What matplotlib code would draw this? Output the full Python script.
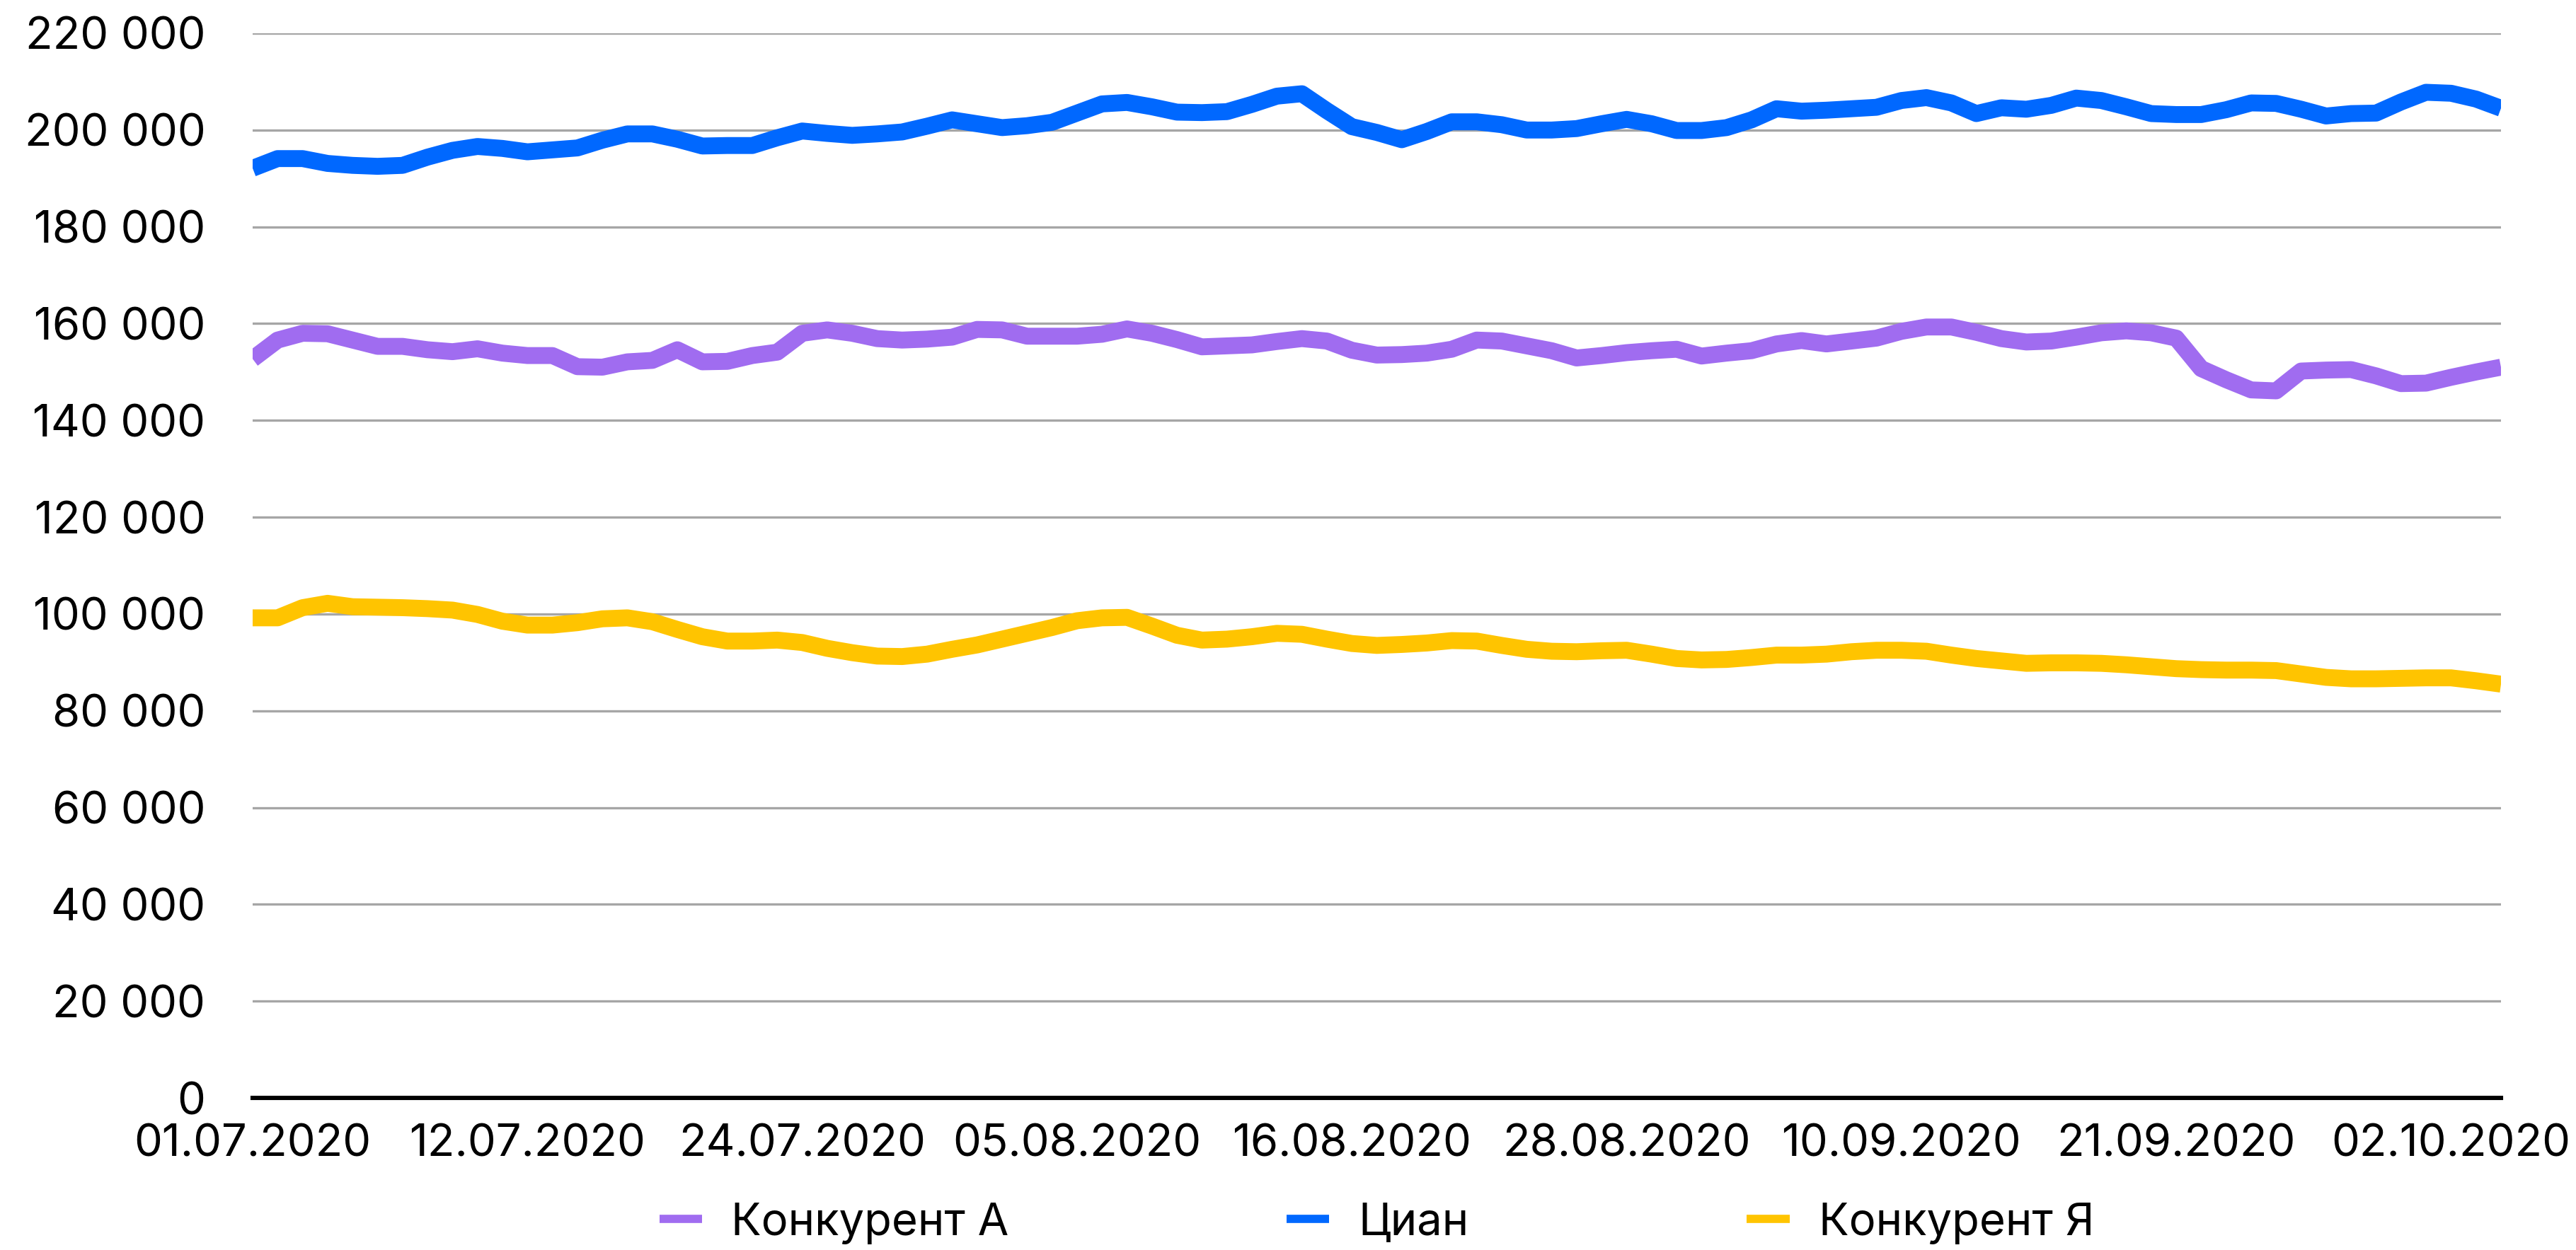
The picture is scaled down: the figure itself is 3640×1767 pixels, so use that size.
import matplotlib
matplotlib.use("Agg")
import matplotlib.pyplot as plt
from matplotlib.ticker import FuncFormatter, MultipleLocator

plt.rcParams['font.family'] = ['Inter', 'DejaVu Sans']

# Daily listing counts, 01.07.2020 - 05.10.2020 (91 observations)
tick_labels = ["01.07.2020", "12.07.2020", "24.07.2020", "05.08.2020", "16.08.2020",
               "28.08.2020", "10.09.2020", "21.09.2020", "02.10.2020"]
tick_step = 11

series_names = ["Конкурент А", "Циан", "Конкурент Я"]
series_colors = ["#A06CF0", "#0068FF", "#FFC400"]

competitor_a = [
    152700, 156600, 158000, 157900, 156600, 155300, 155300, 154600, 154200, 154800,
    153900, 153400, 153400, 151100, 151000, 152100, 152400, 154600, 152100, 152200,
    153400, 154100, 158000, 158700, 158000, 156900, 156600, 156800, 157200, 158800,
    158700, 157400, 157400, 157400, 157800, 158900, 158000, 156700, 155200, 155400,
    155600, 156300, 156900, 156400, 154500, 153500, 153600, 153900, 154700, 156600,
    156400, 155400, 154400, 152900, 153400, 154000, 154400, 154700, 153300, 153900,
    154400, 155800, 156500, 155800, 156400, 157000, 158400, 159300, 159300, 158200,
    156900, 156200, 156400, 157200, 158100, 158500, 158100, 157000, 150700, 148400,
    146300, 146100, 150200, 150400, 150500, 149200, 147600, 147700, 148900, 150000,
    151000,
]

cian = [
    192100, 194100, 194100, 193100, 192700, 192500, 192700, 194400, 195800, 196600,
    196200, 195500, 195900, 196300, 197900, 199200, 199200, 198100, 196700, 196800,
    196800, 198400, 199800, 199300, 198900, 199200, 199600, 200800, 202100, 201300,
    200500, 200900, 201600, 203500, 205400, 205700, 204800, 203700, 203600, 203800,
    205300, 207000, 207500, 204000, 200700, 199500, 198000, 199700, 201700, 201700,
    201100, 200000, 200000, 200300, 201300, 202200, 201300, 199900, 199900, 200500,
    202100, 204400, 203900, 204100, 204400, 204700, 206100, 206700, 205600, 203400,
    204600, 204300, 205100, 206600, 206100, 204800, 203400, 203200, 203200, 204200,
    205600, 205500, 204300, 202900, 203400, 203500, 205800, 207800, 207600, 206400,
    204500,
]

competitor_ya = [
    99200, 99200, 101300, 102200, 101500, 101400, 101300, 101100, 100800, 99900,
    98500, 97700, 97700, 98200, 99000, 99200, 98400, 96800, 95300, 94400,
    94400, 94600, 94100, 92900, 92000, 91300, 91200, 91700, 92700, 93600,
    94800, 96000, 97200, 98600, 99200, 99300, 97500, 95600, 94600, 94800,
    95300, 96000, 95800, 94800, 93900, 93500, 93700, 94000, 94500, 94400,
    93500, 92700, 92300, 92200, 92400, 92500, 91700, 90800, 90500, 90600,
    91000, 91500, 91500, 91700, 92200, 92500, 92500, 92300, 91500, 90800,
    90300, 89800, 89900, 89900, 89800, 89500, 89100, 88700, 88500, 88400,
    88400, 88300, 87600, 86900, 86600, 86600, 86700, 86800, 86800, 86200,
    85500,
]

all_series = [competitor_a, cian, competitor_ya]
n_points = len(cian)
x = list(range(n_points))

DPI = 200
FONT_SIZE = 22.8
fig = plt.figure(figsize=(3641 / DPI, 1767 / DPI), dpi=DPI)
ax = fig.add_axes([357 / 3641, 1 - 1552 / 1767, (3534 - 357) / 3641, (1552 - 47) / 1767])

for values, name, color in zip(all_series, series_names, series_colors):
    ax.plot(x, values, color=color, linewidth=8.6, label=name,
            solid_joinstyle='round', solid_capstyle='butt', zorder=3)

ax.set_xlim(0, n_points - 1)
ax.set_ylim(0, 220000)
ax.yaxis.set_major_locator(MultipleLocator(20000))
ax.yaxis.set_major_formatter(FuncFormatter(lambda v, _: f"{int(v):,}".replace(",", " ")))

ax.set_xticks(list(range(0, n_points, tick_step)))
ax.set_xticklabels(tick_labels)

# horizontal gridlines (the zero line is the axis spine)
for gy in range(20000, 220001, 20000):
    ax.axhline(gy, color="#A6A6A6", linewidth=1.2, zorder=1)

for side in ("top", "right", "left"):
    ax.spines[side].set_visible(False)
ax.spines["bottom"].set_color("black")
ax.spines["bottom"].set_linewidth(2.2)
ax.spines["bottom"].set_zorder(4)

ax.tick_params(axis="y", length=0, pad=24, labelsize=FONT_SIZE, labelcolor="black")
ax.tick_params(axis="x", length=0, pad=13, labelsize=FONT_SIZE, labelcolor="black")

handles, labels = ax.get_legend_handles_labels()
leg = fig.legend(handles, labels, loc="center", ncol=3, frameon=False,
                 bbox_to_anchor=(1945.5 / 3641, 1 - 1729 / 1767),
                 fontsize=FONT_SIZE, handlelength=0.95, handletextpad=0.65,
                 columnspacing=6.2)
for line in leg.get_lines():
    line.set_linewidth(4.2)

fig.savefig("out.png", dpi=DPI, facecolor="white")
